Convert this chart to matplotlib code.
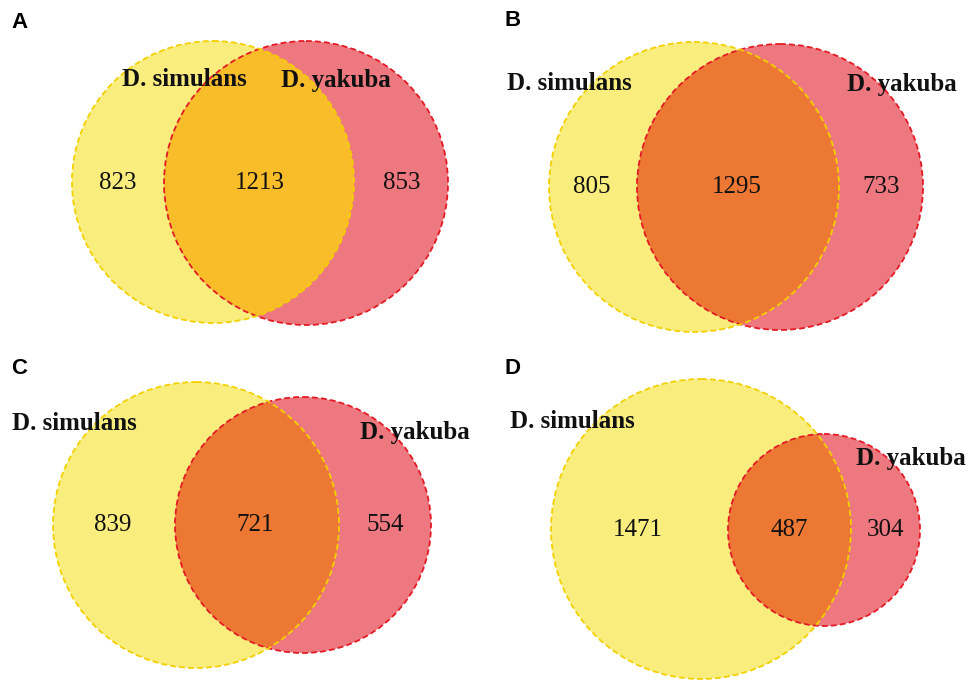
import matplotlib
matplotlib.use("Agg")
import matplotlib.pyplot as plt
from matplotlib.patches import Circle

# ---- data ----
panels = ["A", "B", "C", "D"]
set_names = ["D. simulans", "D. yakuba"]
only_simulans = [823, 805, 839, 1471]
shared = [1213, 1295, 721, 487]
only_yakuba = [853, 733, 554, 304]

# ---- layout (pixel coordinates, y down) ----
# (cx, cy, r) for simulans circle and yakuba circle
circ_sim = [(213, 182, 141), (694, 187, 145), (196, 525, 143), (701, 529, 150)]
circ_yak = [(306, 183, 142), (780, 187, 143), (303, 525, 128), (824, 530, 96)]
lbl_sim = [(184, 80), (569, 83), (74, 423), (572, 422)]
lbl_yak = [(336, 80), (902, 85), (415, 433), (911, 458)]
num_x = [(118, 260, 402), (592, 737, 881), (113, 255, 385), (638, 789, 886)]
num_y = [183, 187, 525, 530]
letter_pos = [(20, 22), (513, 20), (19, 368), (513, 368)]
overlap_col = ["#F9BD2A", "#EC7834", "#EC7834", "#EC7834"]

yellow_fill = "#F8ED7D"
red_fill = "#EE7880"
yellow_edge = "#F3D000"
red_edge = "#E31A24"

fig = plt.figure(figsize=(9.7, 6.8), dpi=100)
ax = fig.add_axes([0, 0, 1, 1])
ax.set_xlim(0, 970)
ax.set_ylim(680, 0)
ax.axis("off")

serif = "Liberation Serif"
for i, p in enumerate(panels):
    sx, sy, sr = circ_sim[i]
    yx, yy, yr = circ_yak[i]
    c1 = Circle((sx, sy), sr, facecolor=yellow_fill, edgecolor="none", zorder=1)
    c2 = Circle((yx, yy), yr, facecolor=red_fill, edgecolor="none", zorder=2)
    ax.add_patch(c1)
    ax.add_patch(c2)
    clipc = Circle((sx, sy), sr, transform=ax.transData, facecolor="none", edgecolor="none")
    ax.add_patch(clipc)
    inter = Circle((yx, yy), yr, facecolor=overlap_col[i], edgecolor="none", zorder=3)
    ax.add_patch(inter)
    inter.set_clip_path(clipc)
    e1 = Circle((sx, sy), sr, facecolor="none", edgecolor=yellow_edge, lw=1.3,
                linestyle=(0, (3.2, 1.8)), zorder=5)
    e2 = Circle((yx, yy), yr, facecolor="none", edgecolor=red_edge, lw=1.3,
                linestyle=(0, (3.2, 1.8)), zorder=4)
    ax.add_patch(e1)
    ax.add_patch(e2)

    ax.text(*lbl_sim[i], set_names[0], family=serif, fontweight="bold", fontsize=18,
            ha="center", va="center", color="#111111", zorder=6)
    ax.text(*lbl_yak[i], set_names[1], family=serif, fontweight="bold", fontsize=18,
            ha="center", va="center", color="#111111", zorder=6)
    vals = [only_simulans[i], shared[i], only_yakuba[i]]
    for x, v in zip(num_x[i], vals):
        ax.text(x, num_y[i], str(v), family=serif, fontsize=18, ha="center", va="center",
                color="#111111", zorder=6)
    ax.text(*letter_pos[i], p, family="Liberation Sans", fontweight="bold", fontsize=16,
            ha="center", va="center", color="black", zorder=6)

fig.savefig("out.png", dpi=100)
